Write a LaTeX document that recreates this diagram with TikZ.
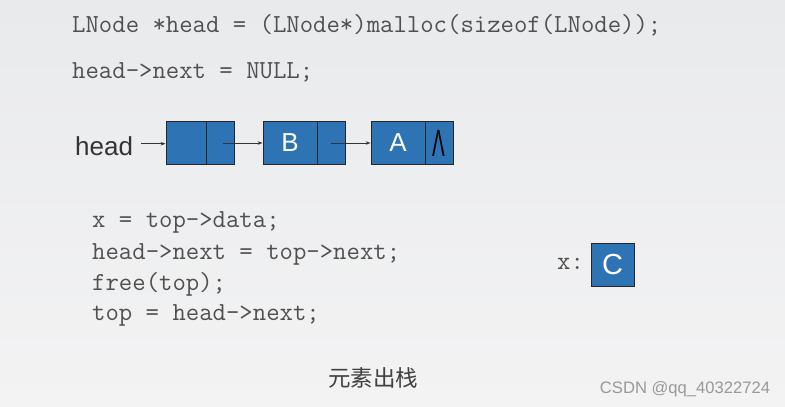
\documentclass[tikz,border=0pt]{standalone}
\usepackage{fontspec}
\setmainfont{Liberation Sans}
\newfontfamily\cjk{Noto Sans CJK SC}
\usetikzlibrary{arrows.meta}
\definecolor{bgtop}{HTML}{E9EAEC}
\definecolor{bgbot}{HTML}{F3F3F4}
\definecolor{cellblue}{HTML}{2E74B5}
\definecolor{codegray}{HTML}{505050}
\tikzset{
  code/.style={anchor=base west, inner sep=0pt, text=codegray, font=\ttfamily\fontsize{26}{30}\selectfont},
  cell/.style={draw=black!85, line width=0.8pt, fill=cellblue, minimum height=42.6pt, inner sep=0pt, text=white, font=\fontsize{26}{30}\selectfont},
  ptr/.style={draw=black!80, line width=0.8pt, -{Stealth[length=5pt,width=3.5pt]}},
}
\begin{document}
\begin{tikzpicture}[x=1pt,y=-1pt]
\shade[top color=bgtop, bottom color=bgbot] (0,0) rectangle (785,407);
\useasboundingbox (0,0) rectangle (785,407);

% top code lines
\node[code] (l1) at (72,32.3) {LNode *head = (LNode*)malloc(sizeof(LNode));};
\node[code] (l2) at (72,78) {head->next = NULL;};

% linked list
\node[anchor=base west, inner sep=0pt, text=black!80, font=\fontsize{26}{30}\selectfont] (head) at (75,155) {head};
\node[cell, minimum width=40pt] (b1d) at (186,143) {};
\node[cell, minimum width=28pt] (b1n) at (220,143) {};
\node[cell, minimum width=54pt] (b2d) at (290,143) {B};
\node[cell, minimum width=28pt] (b2n) at (331,143) {};
\node[cell, minimum width=54pt] (b3d) at (398,143) {A};
\node[cell, minimum width=28pt, text=black] (b3n) at (439,143) {\scalebox{0.5}[1]{\fontsize{38}{40}\selectfont Λ}};

\draw[ptr] (head.east) ++(8,-2) coordinate (hs) -- (hs -| b1d.west);
\draw[ptr] (b1n.center) ++(2.5,0) coordinate (s1) -- (b2d.west);
\draw[ptr] (b2n.center) -- (b3d.west);

% code
\node[code] (c1) at (92,227) {x = top->data;};
\node[code] (c2) at (92,259) {head->next = top->next;};
\node[code] (c3) at (92,290) {free(top);};
\node[code] (c4) at (92,320) {top = head->next;};

% x: C
\node[code] (xl) at (557,269) {x:};
\node[cell, minimum width=43pt, minimum height=43pt, font=\fontsize{29}{32}\selectfont] (cbox) at (612.5,264.5) {C};

% caption
\node[inner sep=0pt, text=black!75, font=\cjk\fontsize{22.5}{26}\selectfont] (cap) at (373,378) {元素出栈};
\node[inner sep=0pt, text=black!40, font=\fontsize{16.6}{20}\selectfont] (wm) at (685,389) {CSDN @qq\_40322724};
\end{tikzpicture}
\end{document}
